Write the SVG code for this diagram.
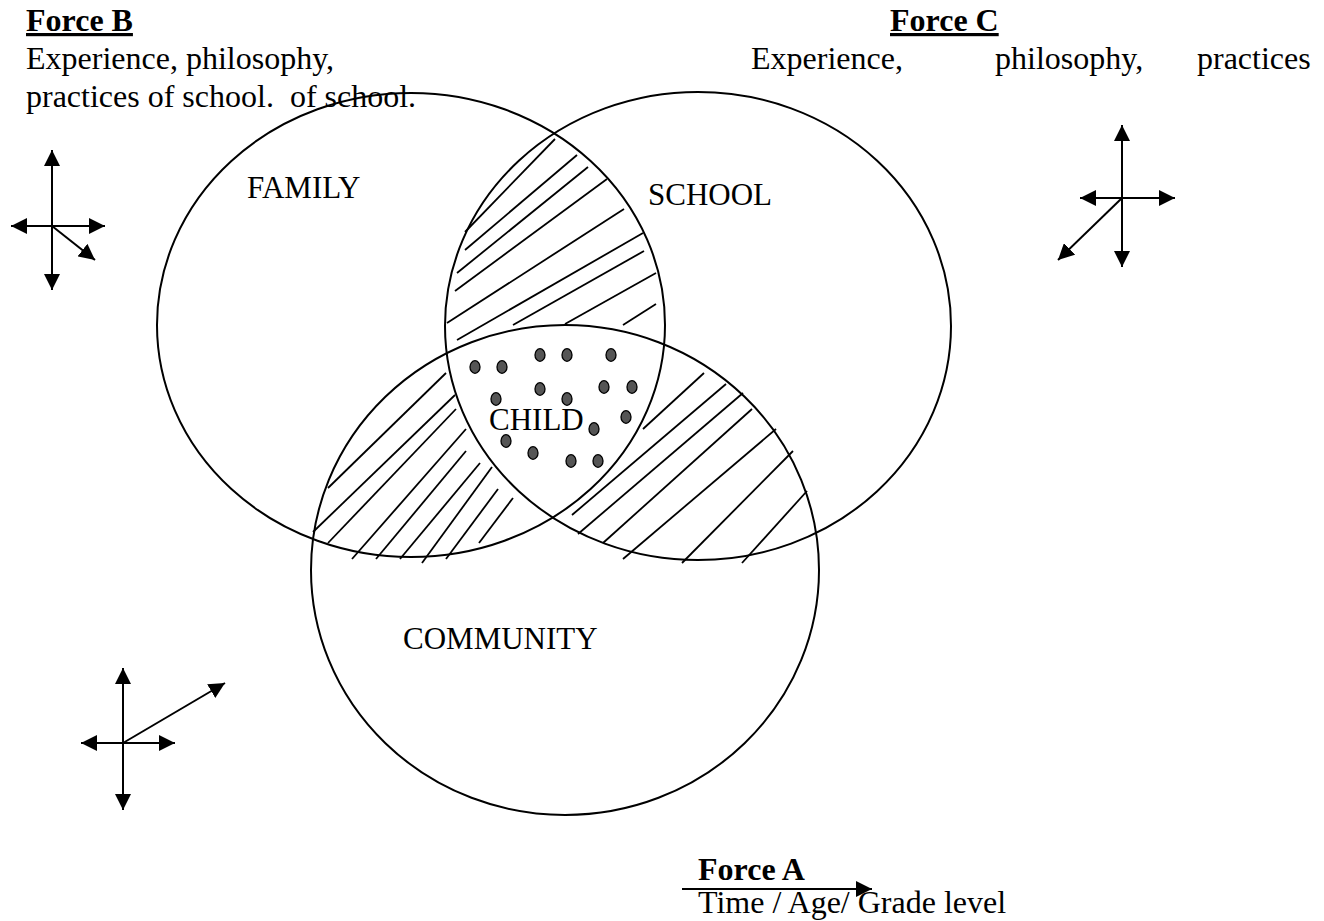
<svg xmlns="http://www.w3.org/2000/svg" width="1324" height="921" viewBox="0 0 1324 921">
  <style>
    .ring { fill: none; stroke: #000; stroke-width: 2; }
    .hatch { stroke: #000; stroke-width: 1.8; stroke-linecap: butt; }
    .dot { fill: #555; stroke: #000; stroke-width: 1.3; }
    .axis { stroke: #000; stroke-width: 2; fill: none; marker-start: url(#head); marker-end: url(#head); }
    .ray { stroke: #000; stroke-width: 2; fill: none; marker-end: url(#head); }
    .label { font-family: "Liberation Serif", "Times New Roman", serif; font-size: 31px; fill: #000; }
    .head { font-family: "Liberation Serif", "Times New Roman", serif; font-size: 32px; font-weight: bold; text-decoration: underline; fill: #000; }
    .body { font-family: "Liberation Serif", "Times New Roman", serif; font-size: 32px; fill: #000; }
  </style>
  <defs>
    <marker id="head" viewBox="0 0 16 16" refX="16" refY="8" markerWidth="16" markerHeight="16" markerUnits="userSpaceOnUse" orient="auto-start-reverse">
      <path d="M0,0 L16,8 L0,16 Z" fill="#000"/>
    </marker>
  </defs>

  <rect width="1324" height="921" fill="#fff"/>

  <!-- Force B heading -->
  <g id="force-b">
    <text class="head" x="26" y="31">Force B</text>
    <text class="body" x="26" y="69">Experience, philosophy,</text>
    <text class="body" x="26" y="107" xml:space="preserve">practices of school.  of school.</text>
  </g>

  <!-- Force C heading -->
  <g id="force-c">
    <text class="head" x="890" y="31">Force C</text>
    <text class="body" x="751" y="69">Experience,</text>
    <text class="body" x="995" y="69">philosophy,</text>
    <text class="body" x="1197" y="69">practices</text>
  </g>

  <!-- Overlap hatching -->
  <g id="hatching" class="hatch">
    <!-- family / school -->
    <line x1="465" y1="232" x2="555" y2="139"/>
    <line x1="465" y1="250" x2="577" y2="155"/>
    <line x1="457" y1="273" x2="588" y2="167"/>
    <line x1="455" y1="291" x2="607" y2="179"/>
    <line x1="447" y1="323" x2="624" y2="209"/>
    <line x1="457" y1="340" x2="643" y2="233"/>
    <line x1="513" y1="325" x2="644" y2="251"/>
    <line x1="565" y1="324" x2="656" y2="273"/>
    <line x1="623" y1="325" x2="656" y2="304"/>
    <!-- family / community -->
    <line x1="328" y1="488" x2="446" y2="373"/>
    <line x1="313" y1="532" x2="455" y2="395"/>
    <line x1="328" y1="543" x2="456" y2="409"/>
    <line x1="352" y1="559" x2="466" y2="429"/>
    <line x1="376" y1="559" x2="466" y2="451"/>
    <line x1="400" y1="559" x2="480" y2="463"/>
    <line x1="422" y1="563" x2="492" y2="467"/>
    <line x1="446" y1="559" x2="498" y2="489"/>
    <line x1="479" y1="543" x2="513" y2="498"/>
    <!-- school / community -->
    <line x1="643" y1="429" x2="704" y2="373"/>
    <line x1="572" y1="515" x2="726" y2="384"/>
    <line x1="578" y1="534" x2="743" y2="393"/>
    <line x1="603" y1="543" x2="752" y2="409"/>
    <line x1="623" y1="559" x2="776" y2="429"/>
    <line x1="682" y1="563" x2="793" y2="451"/>
    <line x1="742" y1="563" x2="807" y2="491"/>
  </g>

  <!-- Circles -->
  <g id="family">
    <ellipse class="ring" cx="411" cy="325" rx="254" ry="232"/>
    <text class="label" x="247" y="198">FAMILY</text>
  </g>
  <g id="school">
    <ellipse class="ring" cx="698" cy="326" rx="253" ry="234"/>
    <text class="label" x="648" y="205">SCHOOL</text>
  </g>
  <g id="community">
    <ellipse class="ring" cx="565" cy="570" rx="254" ry="245"/>
    <text class="label" x="403" y="649">COMMUNITY</text>
  </g>

  <!-- Centre: the child -->
  <g id="child">
    <ellipse class="dot" cx="475" cy="367" rx="5" ry="6.3"/>
    <ellipse class="dot" cx="502" cy="367" rx="5" ry="6.3"/>
    <ellipse class="dot" cx="540" cy="355" rx="5" ry="6.3"/>
    <ellipse class="dot" cx="567" cy="355" rx="5" ry="6.3"/>
    <ellipse class="dot" cx="611" cy="355" rx="5" ry="6.3"/>
    <ellipse class="dot" cx="496" cy="399" rx="5" ry="6.3"/>
    <ellipse class="dot" cx="540" cy="389" rx="5" ry="6.3"/>
    <ellipse class="dot" cx="567" cy="399" rx="5" ry="6.3"/>
    <ellipse class="dot" cx="604" cy="387" rx="5" ry="6.3"/>
    <ellipse class="dot" cx="632" cy="387" rx="5" ry="6.3"/>
    <ellipse class="dot" cx="626" cy="417" rx="5" ry="6.3"/>
    <ellipse class="dot" cx="594" cy="429" rx="5" ry="6.3"/>
    <ellipse class="dot" cx="506" cy="441" rx="5" ry="6.3"/>
    <ellipse class="dot" cx="533" cy="453" rx="5" ry="6.3"/>
    <ellipse class="dot" cx="571" cy="461" rx="5" ry="6.3"/>
    <ellipse class="dot" cx="598" cy="461" rx="5" ry="6.3"/>
    <text class="label" x="489" y="430">CHILD</text>
  </g>

  <!-- Direction crosses and the time arrow -->
  <g id="connectors">
    <g id="cross-top-left">
      <line class="axis" x1="52" y1="150" x2="52" y2="290"/>
      <line class="axis" x1="11" y1="226" x2="105" y2="226"/>
      <line class="ray" x1="52" y1="226" x2="95" y2="260"/>
    </g>
    <g id="cross-top-right">
      <line class="axis" x1="1122" y1="125" x2="1122" y2="267"/>
      <line class="axis" x1="1080" y1="198" x2="1175" y2="198"/>
      <line class="ray" x1="1122" y1="198" x2="1058" y2="260"/>
    </g>
    <g id="cross-bottom-left">
      <line class="axis" x1="123" y1="668" x2="123" y2="810"/>
      <line class="axis" x1="81" y1="743" x2="175" y2="743"/>
      <line class="ray" x1="123" y1="743" x2="225" y2="683"/>
    </g>
    <line id="time-arrow" class="ray" x1="682" y1="889" x2="872" y2="889"/>
  </g>

  <!-- Force A caption -->
  <g id="force-a">
    <text class="body" x="698" y="880" font-weight="bold">Force A</text>
    <text class="body" x="698" y="913">Time / Age/ Grade level</text>
  </g>
</svg>
